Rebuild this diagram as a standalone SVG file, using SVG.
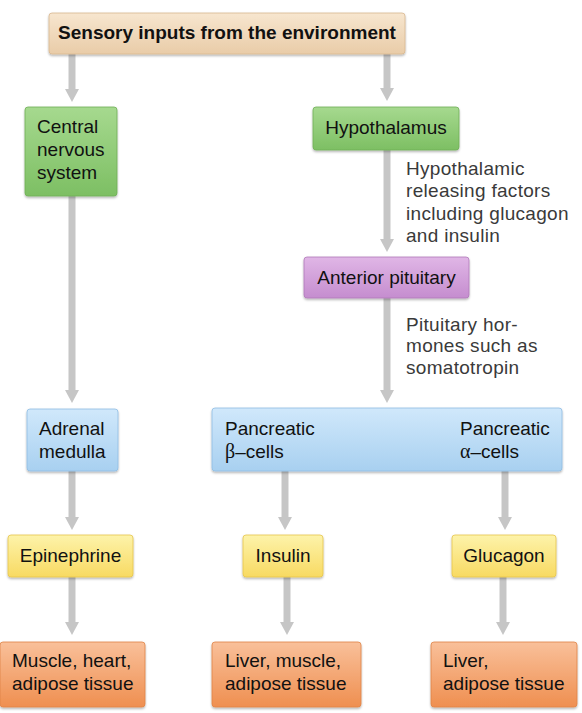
<svg xmlns="http://www.w3.org/2000/svg" width="582" height="713" viewBox="0 0 582 713">
<defs>
<linearGradient id="gTan" x1="0" y1="0" x2="0" y2="1"><stop offset="0" stop-color="#f7e6cf"/><stop offset="1" stop-color="#e9cca8"/></linearGradient>
<linearGradient id="gGreen" x1="0" y1="0" x2="0" y2="1"><stop offset="0" stop-color="#a6d98f"/><stop offset="1" stop-color="#7dbf63"/></linearGradient>
<linearGradient id="gPurple" x1="0" y1="0" x2="0" y2="1"><stop offset="0" stop-color="#e0b6e6"/><stop offset="1" stop-color="#c58dcf"/></linearGradient>
<linearGradient id="gBlue" x1="0" y1="0" x2="0" y2="1"><stop offset="0" stop-color="#d0e8fb"/><stop offset="1" stop-color="#a8d0f0"/></linearGradient>
<linearGradient id="gYellow" x1="0" y1="0" x2="0" y2="1"><stop offset="0" stop-color="#fdf3aa"/><stop offset="1" stop-color="#f8da62"/></linearGradient>
<linearGradient id="gOrange" x1="0" y1="0" x2="0" y2="1"><stop offset="0" stop-color="#f9c09a"/><stop offset="1" stop-color="#ef8f50"/></linearGradient>
<filter id="sh" x="-10%" y="-10%" width="120%" height="130%"><feDropShadow dx="0" dy="1.5" stdDeviation="1" flood-color="#000" flood-opacity="0.3"/></filter>
<marker id="ah" markerUnits="userSpaceOnUse" viewBox="0 0 13 14" markerWidth="13" markerHeight="14" refX="1" refY="7" orient="auto"><path d="M0,0 L13,7 L0,14 z" fill="#c6c6c6"/></marker>
</defs>
<style>
.box{filter:url(#sh);stroke-width:0.8}
.tan{fill:url(#gTan);stroke:#d8b88f}
.green{fill:url(#gGreen);stroke:#6fae56}
.purple{fill:url(#gPurple);stroke:#b07ab9}
.blue{fill:url(#gBlue);stroke:#8fbde3}
.yellow{fill:url(#gYellow);stroke:#e6c54c}
.orange{fill:url(#gOrange);stroke:#e08448}
.t{font-family:"Liberation Sans",Arial,sans-serif;font-size:19px;fill:#111}
.b{font-weight:bold}
.c{text-anchor:middle}
.gr{font-family:"Liberation Serif","Times New Roman",serif;font-size:20px}
.lbl{font-family:"Liberation Sans",Arial,sans-serif;font-size:19px;fill:#3a3a3a;letter-spacing:0.3px}
.arr{stroke:#c6c6c6;stroke-width:7;fill:none;marker-end:url(#ah)}
</style>
<g id="connectors">
<line class="arr" x1="72" y1="54" x2="72" y2="90"/>
<line class="arr" x1="387" y1="54" x2="387" y2="89"/>
<line class="arr" x1="72" y1="196" x2="72" y2="391"/>
<line class="arr" x1="387" y1="150" x2="387" y2="240"/>
<line class="arr" x1="387" y1="298" x2="387" y2="391"/>
<line class="arr" x1="72" y1="471" x2="72" y2="518"/>
<line class="arr" x1="285" y1="471" x2="285" y2="518"/>
<line class="arr" x1="505" y1="471" x2="505" y2="518"/>
<line class="arr" x1="72" y1="577" x2="72" y2="623"/>
<line class="arr" x1="287" y1="577" x2="287" y2="623"/>
<line class="arr" x1="503" y1="577" x2="503" y2="623"/>
</g>
<g id="sensory">
<rect class="box tan" x="49" y="13" width="356" height="41" rx="3"/>
<text class="t b c" x="227" y="39">Sensory inputs from the environment</text>
</g>
<g id="cns">
<rect class="box green" x="25" y="107" width="92" height="89" rx="3"/>
<text class="t" x="37" y="133">Central</text>
<text class="t" x="37" y="156">nervous</text>
<text class="t" x="37" y="179">system</text>
</g>
<g id="hypothalamus">
<rect class="box green" x="313" y="107" width="146" height="43" rx="3"/>
<text class="t c" x="386" y="134">Hypothalamus</text>
</g>
<g id="label-hypothalamic">
<text class="lbl" x="406" y="175">Hypothalamic</text>
<text class="lbl" x="406" y="197">releasing factors</text>
<text class="lbl" x="406" y="220">including glucagon</text>
<text class="lbl" x="406" y="242">and insulin</text>
</g>
<g id="anterior-pituitary">
<rect class="box purple" x="304" y="257" width="165" height="41" rx="3"/>
<text class="t c" x="386.5" y="284">Anterior pituitary</text>
</g>
<g id="label-pituitary">
<text class="lbl" x="406" y="331">Pituitary hor-</text>
<text class="lbl" x="406" y="352">mones such as</text>
<text class="lbl" x="406" y="374">somatotropin</text>
</g>
<g id="adrenal">
<rect class="box blue" x="27" y="409" width="91" height="62" rx="3"/>
<text class="t" x="39" y="435">Adrenal</text>
<text class="t" x="39" y="458">medulla</text>
</g>
<g id="pancreatic">
<rect class="box blue" x="212" y="408" width="350" height="63" rx="3"/>
<text class="t" x="225" y="435">Pancreatic</text>
<text class="t" x="225" y="458"><tspan class="gr">β</tspan>–cells</text>
<text class="t" x="460" y="435">Pancreatic</text>
<text class="t" x="460" y="458"><tspan class="gr">α</tspan>–cells</text>
</g>
<g id="epinephrine">
<rect class="box yellow" x="8" y="535" width="125" height="42" rx="3"/>
<text class="t c" x="70.5" y="562">Epinephrine</text>
</g>
<g id="insulin">
<rect class="box yellow" x="243" y="535" width="80" height="42" rx="3"/>
<text class="t c" x="283" y="562">Insulin</text>
</g>
<g id="glucagon">
<rect class="box yellow" x="452" y="535" width="104" height="42" rx="3"/>
<text class="t c" x="504" y="562">Glucagon</text>
</g>
<g id="target-epinephrine">
<rect class="box orange" x="0" y="642" width="145" height="65" rx="3"/>
<text class="t" x="12" y="667">Muscle, heart,</text>
<text class="t" x="12" y="690">adipose tissue</text>
</g>
<g id="target-insulin">
<rect class="box orange" x="212" y="642" width="149" height="65" rx="3"/>
<text class="t" x="225" y="667">Liver, muscle,</text>
<text class="t" x="225" y="690">adipose tissue</text>
</g>
<g id="target-glucagon">
<rect class="box orange" x="431" y="642" width="146" height="65" rx="3"/>
<text class="t" x="443" y="667">Liver,</text>
<text class="t" x="443" y="690">adipose tissue</text>
</g>
</svg>
